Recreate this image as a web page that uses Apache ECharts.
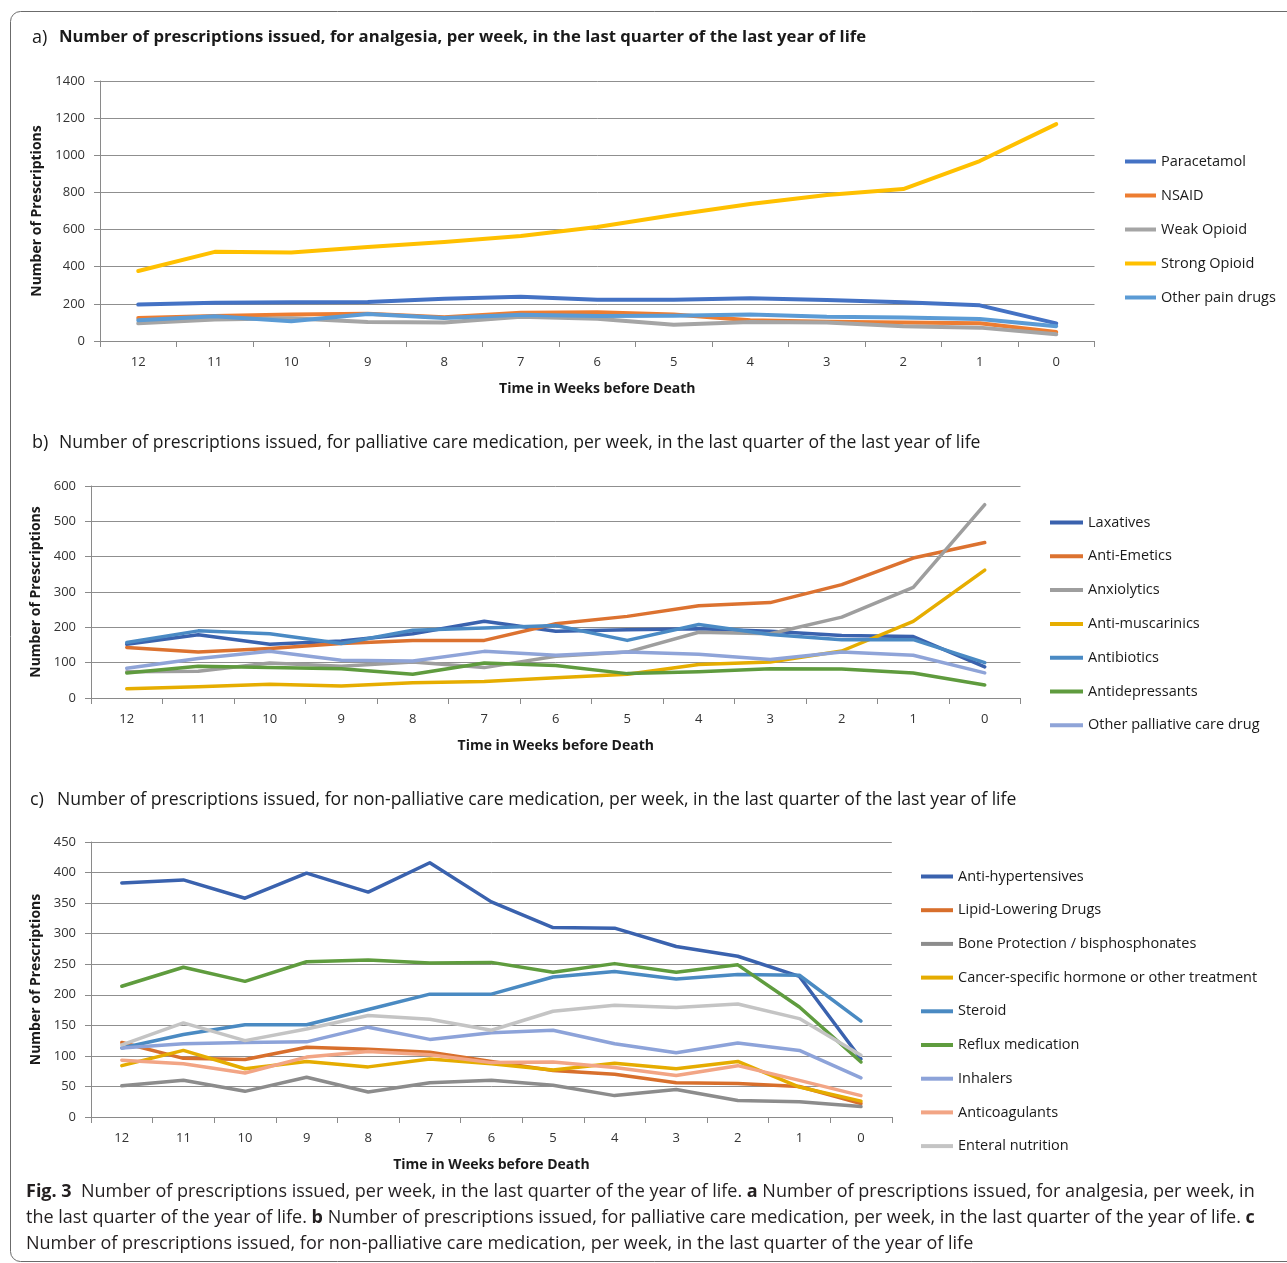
<!DOCTYPE html>
<html>
<head>
<meta charset="utf-8">
<script src="https://cdn.jsdelivr.net/npm/echarts@6/dist/echarts.min.js"></script>
<style>
  html, body { margin: 0; padding: 0; background: #fff; }
  #chart { width: 1287px; height: 1263px; }
</style>
</head>
<body>
<div id="chart"></div>
<script>
// Weeks before death, shared by all three panels
const weeks = ['12', '11', '10', '9', '8', '7', '6', '5', '4', '3', '2', '1', '0'];

// a) analgesia
const paracetamol  = [196, 206, 208, 210, 228, 238, 222, 222, 230, 221, 208, 192, 95];
const nsaid        = [124, 134, 143, 147, 128, 152, 155, 143, 112, 104, 100, 95, 48];
const weakOpioid   = [95, 116, 122, 102, 100, 130, 120, 88, 102, 100, 80, 72, 36];
const strongOpioid = [377, 480, 476, 506, 533, 565, 614, 678, 738, 786, 818, 969, 1168];
const otherPain    = [112, 133, 106, 146, 124, 142, 134, 136, 143, 130, 127, 118, 80];

// b) palliative care medication
const laxatives       = [152, 179, 152, 161, 182, 217, 189, 193, 196, 189, 177, 174, 88];
const antiEmetics     = [143, 130, 140, 154, 163, 163, 210, 231, 261, 270, 321, 396, 440];
const anxiolytics     = [74, 76, 99, 90, 102, 86, 118, 130, 186, 182, 229, 313, 547];
const antiMuscarinics = [26, 32, 39, 34, 43, 47, 57, 67, 95, 102, 133, 217, 362];
const antibiotics     = [157, 190, 182, 154, 192, 198, 205, 163, 208, 180, 165, 165, 100];
const antidepressants = [71, 90, 86, 83, 67, 99, 92, 69, 74, 83, 82, 71, 37];
const otherPalliative = [84, 112, 132, 107, 105, 132, 121, 130, 124, 109, 130, 121, 71];

// c) non-palliative care medication
const antiHypertensives = [383, 388, 358, 399, 368, 416, 352, 310, 309, 279, 263, 230, 95];
const lipidLowering     = [122, 96, 94, 114, 111, 106, 91, 76, 70, 56, 55, 50, 22];
const boneProtection    = [51, 60, 42, 65, 41, 56, 60, 52, 35, 45, 27, 25, 17];
const cancerSpecific    = [84, 109, 79, 91, 82, 95, 87, 77, 88, 79, 91, 49, 26];
const steroid           = [113, 135, 151, 151, 176, 201, 201, 229, 238, 226, 233, 232, 157];
const reflux            = [214, 245, 222, 254, 257, 252, 253, 237, 251, 237, 249, 180, 90];
const inhalers          = [113, 120, 122, 123, 147, 127, 138, 142, 120, 105, 121, 109, 64];
const anticoagulants    = [93, 87, 72, 98, 107, 102, 89, 90, 81, 68, 84, 60, 35];
const enteral           = [118, 154, 125, 144, 166, 160, 142, 173, 183, 179, 185, 161, 101];

const panelA = [
  ['Paracetamol', paracetamol, '#4472C4'],
  ['NSAID', nsaid, '#ED7D31'],
  ['Weak Opioid', weakOpioid, '#A5A5A5'],
  ['Strong Opioid', strongOpioid, '#FFC000'],
  ['Other pain drugs', otherPain, '#5B9BD5']
];
const panelB = [
  ['Laxatives', laxatives, '#3A62AE'],
  ['Anti-Emetics', antiEmetics, '#DC7230'],
  ['Anxiolytics', anxiolytics, '#9E9E9E'],
  ['Anti-muscarinics', antiMuscarinics, '#E6AD00'],
  ['Antibiotics', antibiotics, '#4A8AC4'],
  ['Antidepressants', antidepressants, '#5F9B3E'],
  ['Other palliative care drug', otherPalliative, '#8FA4D8']
];
const panelC = [
  ['Anti-hypertensives', antiHypertensives, '#3A62AE'],
  ['Lipid-Lowering Drugs', lipidLowering, '#D86F2C'],
  ['Bone Protection / bisphosphonates', boneProtection, '#8C8C8C'],
  ['Cancer-specific hormone or other treatment', cancerSpecific, '#E5AC00'],
  ['Steroid', steroid, '#4A8AC2'],
  ['Reflux medication', reflux, '#5F9C3E'],
  ['Inhalers', inhalers, '#8DA3D9'],
  ['Anticoagulants', anticoagulants, '#F2A585'],
  ['Enteral nutrition', enteral, '#C4C4C4']
];

const FONT = '"Open Sans", "Noto Sans", sans-serif';
const GRID_COLOR = '#8f8f8f';
const AXIS_COLOR = '#8a8a8a';

function xAxisFor(gridIndex) {
  return {
    type: 'category', gridIndex, data: weeks, boundaryGap: true,
    name: 'Time in Weeks before Death', nameLocation: 'middle', nameGap: 41,
    nameTextStyle: { fontFamily: FONT, fontSize: 14, fontWeight: 'bold', color: '#1a1a1a' },
    axisLine: { lineStyle: { color: AXIS_COLOR, width: 1 } },
    axisTick: { show: true, length: 6, alignWithLabel: false, lineStyle: { color: AXIS_COLOR } },
    axisLabel: { fontFamily: FONT, fontSize: 13, color: '#333', margin: 15 },
    splitLine: { show: false }
  };
}
function yAxisFor(gridIndex, max, interval, nameGap) {
  return {
    type: 'value', gridIndex, min: 0, max, interval,
    name: 'Number of Prescriptions', nameLocation: 'middle', nameGap, nameRotate: 90,
    nameTextStyle: { fontFamily: FONT, fontSize: 14, fontWeight: 'bold', color: '#1a1a1a' },
    axisLine: { show: true, lineStyle: { color: AXIS_COLOR, width: 1 } },
    axisTick: { show: true, length: 6, lineStyle: { color: AXIS_COLOR } },
    axisLabel: { fontFamily: FONT, fontSize: 13, color: '#333', margin: 15, formatter: v => String(v) },
    splitLine: { show: true, lineStyle: { color: GRID_COLOR, width: 1 } }
  };
}

const series = [];
const legends = [];
function addPanel(list, idx, width, legendLeft, legendTop, iconWidth, gap) {
  list.forEach(([name, values, color]) => {
    series.push({
      name, type: 'line', xAxisIndex: idx, yAxisIndex: idx, data: values,
      showSymbol: false, symbol: 'none', smooth: false,
      lineStyle: { color, width, cap: 'round', join: 'round' },
      itemStyle: { color }, emphasis: { disabled: true }
    });
  });
  legends.push({
    orient: 'vertical', left: legendLeft, top: legendTop, padding: 0,
    data: list.map(d => ({ name: d[0], icon: 'rect' })),
    itemWidth: iconWidth, itemHeight: 4, itemGap: gap,
    textStyle: { fontFamily: FONT, fontSize: 14.5, color: '#1a1a1a', lineHeight: 14 },
    selectedMode: false
  });
}
addPanel(panelA, 0, 4, 1125, 154, 31, 19);
addPanel(panelB, 1, 3.5, 1050, 515, 33, 18.8);
addPanel(panelC, 2, 3.5, 921, 869, 32, 18.7);

function titleText(x, y, label, text, bold, size) {
  return [
    { type: 'text', left: x, top: y, style: { text: label, font: '18px ' + FONT, fill: '#1a1a1a' } },
    { type: 'text', left: x + 27, top: y, style: { text, font: (bold ? 'bold ' : '') + size + 'px ' + FONT, fill: '#1a1a1a' } }
  ];
}

const captionRich = {
  b: { fontFamily: FONT, fontWeight: 'bold', fontSize: 18, fill: '#231f20' },
  n: { fontFamily: FONT, fontSize: 18, fill: '#231f20' }
};
function captionLine(y, text) {
  return { type: 'text', left: 26, top: y, style: { text, rich: captionRich, font: '18px ' + FONT, fill: '#231f20' } };
}

const chart = echarts.init(document.getElementById('chart'), null, { renderer: 'canvas' });
chart.setOption({
  animation: false,
  backgroundColor: '#ffffff',
  grid: [
    { left: 100, top: 81, width: 994.5, height: 260, containLabel: false },
    { left: 91, top: 486, width: 929.5, height: 212, containLabel: false },
    { left: 91, top: 842, width: 800.8, height: 275, containLabel: false }
  ],
  xAxis: [xAxisFor(0), xAxisFor(1), xAxisFor(2)],
  yAxis: [yAxisFor(0, 1400, 200, 56), yAxisFor(1, 600, 100, 47), yAxisFor(2, 450, 50, 47)],
  legend: legends,
  series,
  graphic: [
    { type: 'rect', shape: { x: 10.5, y: 11.5, width: 1320, height: 1250, r: 10 },
      style: { fill: 'none', stroke: '#6b6b6b', lineWidth: 1 }, silent: true },
    ...titleText(32, 29, 'a)', 'Number of prescriptions issued, for analgesia, per week, in the last quarter of the last year of life', true, 16.7),
    ...titleText(32, 434, 'b)', 'Number of prescriptions issued, for palliative care medication, per week, in the last quarter of the last year of life', false, 17.6),
    ...titleText(30, 791, 'c)', 'Number of prescriptions issued, for non-palliative care medication, per week, in the last quarter of the last year of life', false, 17.6),
    captionLine(1183, '{b|Fig. 3}{n|  Number of prescriptions issued, per week, in the last quarter of the year of life. }{b|a}{n| Number of prescriptions issued, for analgesia, per week, in}'),
    captionLine(1209, '{n|the last quarter of the year of life. }{b|b}{n| Number of prescriptions issued, for palliative care medication, per week, in the last quarter of the year of life. }{b|c}'),
    captionLine(1235, '{n|Number of prescriptions issued, for non-palliative care medication, per week, in the last quarter of the year of life}')
  ]
});
</script>
</body>
</html>
